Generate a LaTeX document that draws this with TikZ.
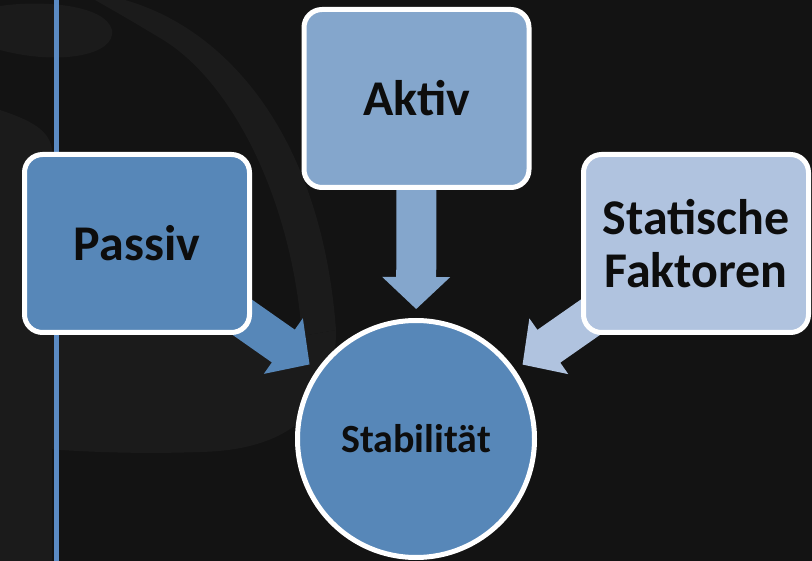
\documentclass[tikz,border=0pt]{standalone}
\usepackage{fontspec}
\setmainfont{Carlito}
\usetikzlibrary{calc}
\definecolor{bgdark}{HTML}{131313}
\definecolor{swirl}{HTML}{1B1B1B}
\definecolor{bluedeep}{HTML}{5787B8}
\definecolor{bluemid}{HTML}{84A6CC}
\definecolor{bluepale}{HTML}{B0C3DF}
\definecolor{rulecol}{HTML}{5B8BC4}
\definecolor{ink}{HTML}{0D0D0D}
\pgfdeclarelayer{back}
\pgfdeclarelayer{under}
\pgfsetlayers{back,under,main}
\tikzset{
  factor/.style={draw=white, line width=5pt, rounded corners=18pt, minimum width=225pt,
    minimum height=178pt, align=center, text=ink, inner sep=0pt, outer sep=0pt,
    font=\bfseries\fontsize{50}{53}\selectfont},
  goal/.style={circle, draw=white, line width=5pt, fill=bluedeep, minimum size=237pt,
    inner sep=0pt, text=ink, font=\bfseries\fontsize{40}{44}\selectfont}
}
% block arrow: colour, source node, target node
\newcommand{\blockarrow}[3]{%
  \coordinate (tip) at ($(#3.center)!130pt!(#2.center)$);
  \coordinate (neck) at ($(tip)!32pt!(#2.center)$);
  \fill[#1] ($(#2.center)!20pt!90:(tip)$) -- ($(neck)!20pt!90:(tip)$)
    -- ($(neck)!34pt!90:(tip)$) -- (tip) -- ($(neck)!34pt!-90:(tip)$)
    -- ($(neck)!20pt!-90:(tip)$) -- ($(#2.center)!20pt!-90:(tip)$) -- cycle;
}

\begin{document}
\begin{tikzpicture}[x=1pt, y=-1pt]
  \useasboundingbox (0,0) rectangle (812,561);

  \node[factor, fill=bluedeep] (passiv) at (137,243.5) {Passiv};
  \node[factor, fill=bluemid] (aktiv) at (416.5,98.5) {Aktiv};
  \node[factor, fill=bluepale] (statisch) at (696,243.5) {Statische\\Faktoren};
  \node[goal] (stab) at (416,439) {Stabilität};

  \begin{pgfonlayer}{back}
    \fill[bgdark] (0,0) rectangle (812,561);
    % faint swirl behind
    \fill[swirl] (0,6) .. controls (40,0) and (105,4) .. (112,30)
      .. controls (116,55) and (60,66) .. (0,50) -- cycle;
    \fill[swirl] (125,0) .. controls (230,30) and (322,140) .. (336,330)
      -- (302,336) .. controls (292,200) and (232,80) .. (160,38)
      .. controls (130,20) .. (95,0) -- cycle;
    \fill[swirl] (0,330) .. controls (100,335) and (240,328) .. (302,336)
      -- (336,330) .. controls (336,400) and (300,450) .. (200,452)
      .. controls (120,455) and (50,450) .. (0,445) -- cycle;
    \fill[swirl] (0,110) .. controls (30,120) and (50,130) .. (52,150)
      -- (52,561) -- (0,561) -- cycle;
  \end{pgfonlayer}

  \begin{pgfonlayer}{under}
    \draw[rulecol, line width=5pt] (56.5,0) -- (56.5,561);
    \blockarrow{bluedeep}{passiv}{stab}
    \blockarrow{bluemid}{aktiv}{stab}
    \blockarrow{bluepale}{statisch}{stab}
  \end{pgfonlayer}
\end{tikzpicture}
\end{document}
